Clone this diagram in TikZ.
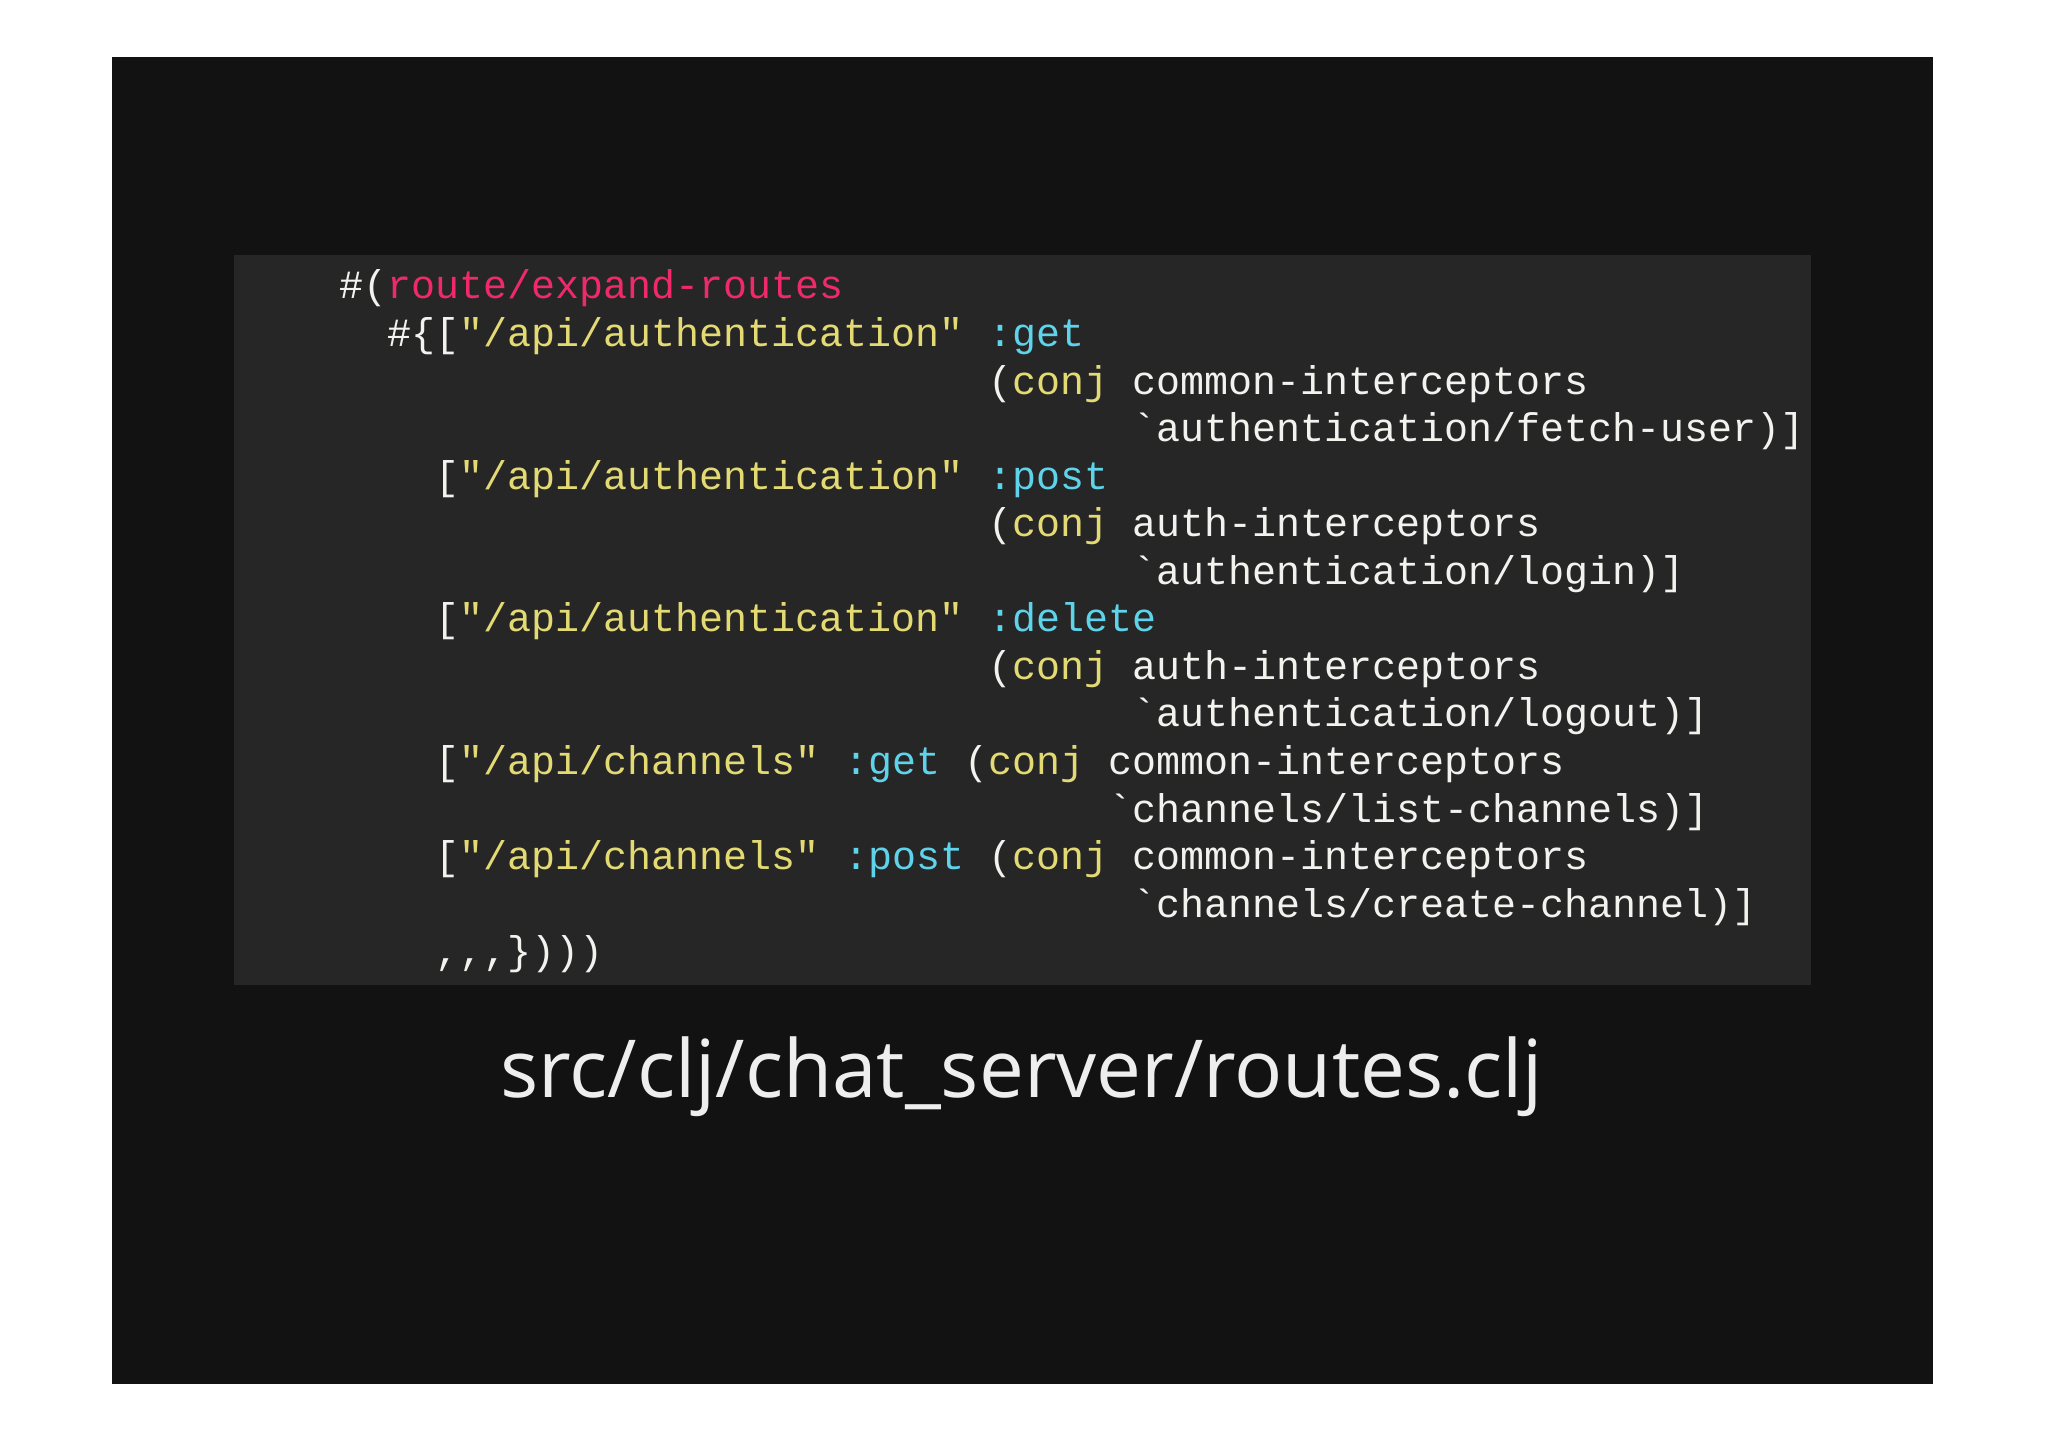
\documentclass[tikz,border=0pt]{standalone}
\usepackage{fontspec}
\setmonofont{Liberation Mono}
\newfontfamily\capfont{Open Sans}
\definecolor{slide}{HTML}{121212}
\definecolor{codebg}{HTML}{262626}
\definecolor{cwhite}{HTML}{F2F2EE}
\definecolor{cpink}{HTML}{F02A6A}
\definecolor{cyel}{HTML}{E3DA74}
\definecolor{ccyan}{HTML}{5FD3EA}
\definecolor{capcol}{HTML}{EEEEEE}
\tikzset{
  seg/.style={anchor=base west,inner sep=0pt,font=\fontsize{40}{40}\selectfont\ttfamily,text=cwhite},
  w/.style={seg}, p/.style={seg,text=cpink}, yl/.style={seg,text=cyel}, cy/.style={seg,text=ccyan}
}
\newcommand{\cw}{24.03}
\newcommand{\xo}{339.6}
\begin{document}
\begin{tikzpicture}[x=1pt,y=-1pt]
\fill[white] (0,0) rectangle (2048,1447);
\fill[slide] (112,57) rectangle (1933,1384);
\fill[codebg] (234,255) rectangle (1811,985);
% line 0
\node[w] (l0a) at ({\xo+0*\cw},299) {\#(};
\node[p] (l0b) at ({\xo+2*\cw},299) {route/expand-routes};
% line 1
\node[w] (l1a) at ({\xo+2*\cw},{299+47.55*1}) {\#\{[};
\node[yl] (l1b) at ({\xo+5*\cw},{299+47.55*1}) {"/api/authentication"};
\node[cy] (l1c) at ({\xo+27*\cw},{299+47.55*1}) {:get};
% line 2
\node[w] (l2a) at ({\xo+27*\cw},{299+47.55*2}) {(};
\node[yl] (l2b) at ({\xo+28*\cw},{299+47.55*2}) {conj};
\node[w] (l2c) at ({\xo+33*\cw},{299+47.55*2}) {common-interceptors};
% line 3
\node[w] (l3) at ({\xo+33*\cw},{299+47.55*3}) {\symbol{96}authentication/fetch-user)]};
% line 4
\node[w] (l4a) at ({\xo+4*\cw},{299+47.55*4}) {[};
\node[yl] (l4b) at ({\xo+5*\cw},{299+47.55*4}) {"/api/authentication"};
\node[cy] (l4c) at ({\xo+27*\cw},{299+47.55*4}) {:post};
% line 5
\node[w] (l5a) at ({\xo+27*\cw},{299+47.55*5}) {(};
\node[yl] (l5b) at ({\xo+28*\cw},{299+47.55*5}) {conj};
\node[w] (l5c) at ({\xo+33*\cw},{299+47.55*5}) {auth-interceptors};
% line 6
\node[w] (l6) at ({\xo+33*\cw},{299+47.55*6}) {\symbol{96}authentication/login)]};
% line 7
\node[w] (l7a) at ({\xo+4*\cw},{299+47.55*7}) {[};
\node[yl] (l7b) at ({\xo+5*\cw},{299+47.55*7}) {"/api/authentication"};
\node[cy] (l7c) at ({\xo+27*\cw},{299+47.55*7}) {:delete};
% line 8
\node[w] (l8a) at ({\xo+27*\cw},{299+47.55*8}) {(};
\node[yl] (l8b) at ({\xo+28*\cw},{299+47.55*8}) {conj};
\node[w] (l8c) at ({\xo+33*\cw},{299+47.55*8}) {auth-interceptors};
% line 9
\node[w] (l9) at ({\xo+33*\cw},{299+47.55*9}) {\symbol{96}authentication/logout)]};
% line 10
\node[w] (l10a) at ({\xo+4*\cw},{299+47.55*10}) {[};
\node[yl] (l10b) at ({\xo+5*\cw},{299+47.55*10}) {"/api/channels"};
\node[cy] (l10c) at ({\xo+21*\cw},{299+47.55*10}) {:get};
\node[w] (l10d) at ({\xo+26*\cw},{299+47.55*10}) {(};
\node[yl] (l10e) at ({\xo+27*\cw},{299+47.55*10}) {conj};
\node[w] (l10f) at ({\xo+32*\cw},{299+47.55*10}) {common-interceptors};
% line 11
\node[w] (l11) at ({\xo+32*\cw},{299+47.55*11}) {\symbol{96}channels/list-channels)]};
% line 12
\node[w] (l12a) at ({\xo+4*\cw},{299+47.55*12}) {[};
\node[yl] (l12b) at ({\xo+5*\cw},{299+47.55*12}) {"/api/channels"};
\node[cy] (l12c) at ({\xo+21*\cw},{299+47.55*12}) {:post};
\node[w] (l12d) at ({\xo+27*\cw},{299+47.55*12}) {(};
\node[yl] (l12e) at ({\xo+28*\cw},{299+47.55*12}) {conj};
\node[w] (l12f) at ({\xo+33*\cw},{299+47.55*12}) {common-interceptors};
% line 13
\node[w] (l13) at ({\xo+33*\cw},{299+47.55*13}) {\symbol{96}channels/create-channel)]};
% line 14
\node[w] (l14) at ({\xo+4*\cw},{299+47.55*14}) {,{},{},\})))};
% caption
\node[anchor=base,inner sep=0pt,text=capcol,font=\capfont\fontsize{80}{80}\selectfont] (cap) at (1022,1097) {src/clj/chat\_server/routes.clj};
\end{tikzpicture}
\end{document}
